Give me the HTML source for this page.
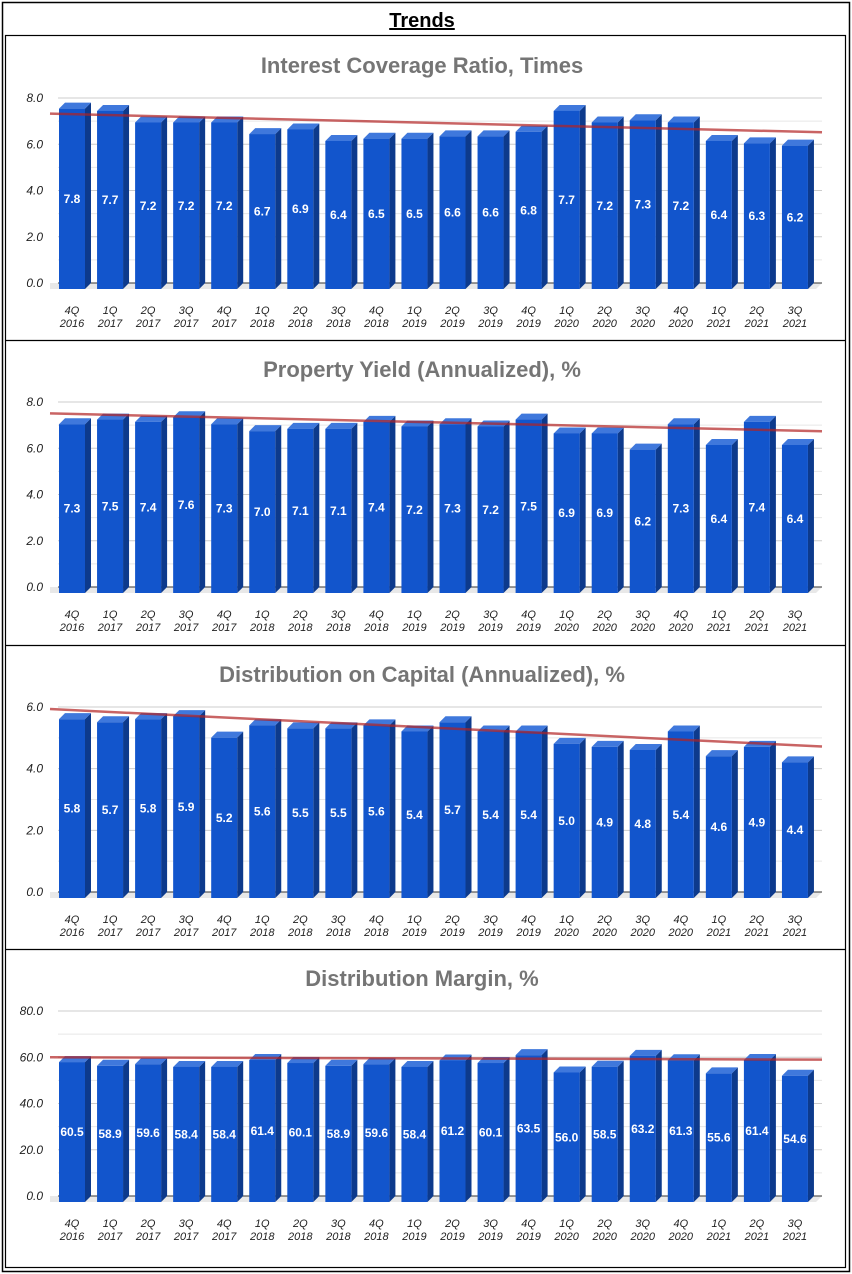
<!DOCTYPE html>
<html><head><meta charset="utf-8"><style>
body{margin:0;background:#fff;}
svg{display:block;font-family:"Liberation Sans",sans-serif;}
</style></head><body>
<svg id="s" width="852" height="1274" viewBox="0 0 852 1274">
<rect x="2.5" y="2.5" width="847" height="1269" fill="#fff" stroke="#000" stroke-width="1.5"/>
<text x="422" y="27" text-anchor="middle" font-size="20" font-weight="bold" text-decoration="underline">Trends</text>
<rect x="5.5" y="35.5" width="840" height="1232" fill="none" stroke="#000" stroke-width="1.2"/>
</svg>
<script>
const categories = [["4Q","2016"],["1Q","2017"],["2Q","2017"],["3Q","2017"],["4Q","2017"],["1Q","2018"],["2Q","2018"],["3Q","2018"],["4Q","2018"],["1Q","2019"],["2Q","2019"],["3Q","2019"],["4Q","2019"],["1Q","2020"],["2Q","2020"],["3Q","2020"],["4Q","2020"],["1Q","2021"],["2Q","2021"],["3Q","2021"]];
const interestCoverage = [7.8,7.7,7.2,7.2,7.2,6.7,6.9,6.4,6.5,6.5,6.6,6.6,6.8,7.7,7.2,7.3,7.2,6.4,6.3,6.2];
const propertyYield = [7.3,7.5,7.4,7.6,7.3,7.0,7.1,7.1,7.4,7.2,7.3,7.2,7.5,6.9,6.9,6.2,7.3,6.4,7.4,6.4];
const distributionCapital = [5.8,5.7,5.8,5.9,5.2,5.6,5.5,5.5,5.6,5.4,5.7,5.4,5.4,5.0,4.9,4.8,5.4,4.6,4.9,4.4];
const distributionMargin = [60.5,58.9,59.6,58.4,58.4,61.4,60.1,58.9,59.6,58.4,61.2,60.1,63.5,56.0,58.5,63.2,61.3,55.6,61.4,54.6];
const titles = ["Interest Coverage Ratio, Times","Property Yield (Annualized), %","Distribution on Capital (Annualized), %","Distribution Margin, %"];
const axisMax = [8,8,6,80];
const majorStep = [2,2,2,20];

const NS="http://www.w3.org/2000/svg";
const svg=document.getElementById('s');
function mk(tag,attrs,parent,txt){const e=document.createElementNS(NS,tag);for(const k in attrs)e.setAttribute(k,attrs[k]);if(txt!==undefined)e.textContent=txt;(parent||svg).appendChild(e);return e;}

const series=[interestCoverage,propertyYield,distributionCapital,distributionMargin];
const panelTop=[36,340,645,949];
series.forEach((vals,p)=>{
  const g=mk('g',{});
  
  
  const off=panelTop[p]-36;
  if(p>0){const ln=mk('line',{x1:6,x2:845,y1:panelTop[p]+0.5,y2:panelTop[p]+0.5,stroke:'#000','stroke-width':1.2},g);
    }
  const t=mk('text',{x:422,y:73+off,'text-anchor':'middle','font-size':22,'font-weight':'bold',fill:'#757575'},g,titles[p]);
  
  const y0=283+off, h=185, max=axisMax[p];
  const ys=v=>y0-v/max*h;
  const x0=50,x1=822;
  const xs=i=>72+i*38.05; // front face center
  const D=6;
  // floor
  const fl=mk('polygon',{points:`${x0},${y0} ${x1},${y0} ${x1-D},${y0+D} ${x0-D+6},${y0+D}`,fill:'#e8e8e8'},g);
  
  const minor=majorStep[p]/2;
  for(let v=0;v<=max+1e-9;v+=minor){
    const isMajor=Math.abs(v/majorStep[p]-Math.round(v/majorStep[p]))<1e-6;
    const gl=mk('line',{x1:x0+8,x2:x1,y1:ys(v),y2:ys(v),stroke:v===0?'#333':(isMajor?'#ccc':'#e6e6e6'),'stroke-width':1},g);
    
    if(isMajor){const tl=mk('text',{x:43,y:ys(v)+4,'text-anchor':'end','font-size':12,'font-style':'italic',fill:'#222'},g,v.toFixed(1));
      }
  }
  vals.forEach((v,i)=>{
    const cx=xs(i), w=26, L=cx-w/2, top=ys(v)+D, bot=y0+D;
    const b=mk('g',{},g);
    
    
    mk('polygon',{points:`${L+w},${top} ${L+w+D},${top-D} ${L+w+D},${bot-D} ${L+w},${bot}`,fill:'#0d3a8c'},b);
    mk('polygon',{points:`${L},${top} ${L+D},${top-D} ${L+w+D},${top-D} ${L+w},${top}`,fill:'#3f78dc'},b);
    mk('rect',{x:L,y:top,width:w,height:bot-top,fill:'#1255cc'},b);
    const vl=mk('text',{x:cx,y:(top+bot)/2+4,'text-anchor':'middle','font-size':12,'font-weight':'bold',fill:'#fff'},b,v.toFixed(1));
    
    const xl=mk('text',{x:cx,y:y0+31,'text-anchor':'middle','font-size':11,'font-style':'italic',fill:'#222'},g,categories[i][0]);
    
    const xl2=mk('text',{x:cx,y:y0+44,'text-anchor':'middle','font-size':11,'font-style':'italic',fill:'#222'},g,categories[i][1]);
    
  });
  // regression trendline
  const n=vals.length;let sx=0,sy=0,sxy=0,sxx=0;
  vals.forEach((v,i)=>{sx+=i;sy+=v;sxy+=i*v;sxx+=i*i;});
  const m=(n*sxy-sx*sy)/(n*sxx-sx*sx), c=(sy-m*sx)/n;
  const bx=i=>xs(i)+3;
  const iA=(x0-bx(0))/38.05, iB=(x1-bx(0))/38.05;
  const tr=mk('line',{x1:x0,x2:x1,y1:ys(c+m*iA),y2:ys(c+m*iB),stroke:'#b22222','stroke-opacity':0.7,'stroke-width':2.5},g);
  
});
</script>
</body></html>
